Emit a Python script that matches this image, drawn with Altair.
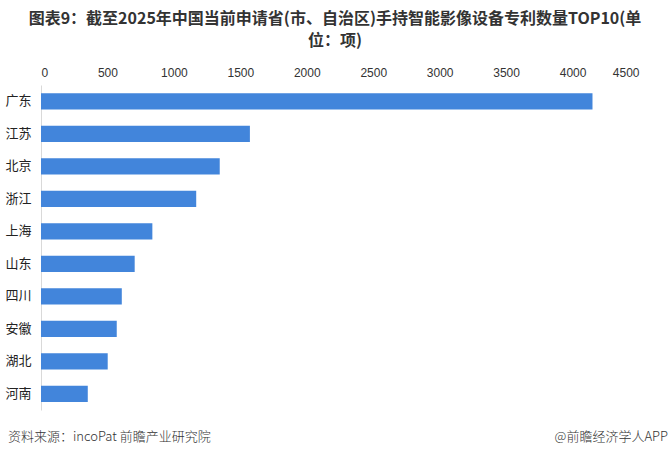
import altair as alt
import pandas as pd

provinces = ["广东", "江苏", "北京", "浙江", "上海", "山东", "四川", "安徽", "湖北", "河南"]
counts = [4150, 1572, 1345, 1168, 838, 705, 608, 570, 502, 352]
x_ticks = [0, 500, 1000, 1500, 2000, 2500, 3000, 3500, 4000, 4500]
title_lines = ["图表9：截至2025年中国当前申请省(市、自治区)手持智能影像设备专利数量TOP10(单", "位：项)"]
source_text = "资料来源：incoPat 前瞻产业研究院"
credit_text = "@前瞻经济学人APP"

df = pd.DataFrame({"province": provinces, "count": counts})
one = pd.DataFrame({"k": [0]})

FONT = "Noto Sans CJK SC"

bars = alt.Chart(df).mark_bar(color="#4285DB").encode(
    x=alt.X("count:Q",
            scale=alt.Scale(domain=[0, 4500], nice=False),
            axis=alt.Axis(orient="top", values=x_ticks, format="d", title=None, grid=False,
                          ticks=False, domain=False, labelFont="Liberation Sans",
                          labelFontSize=12, labelColor="#333333", labelPadding=6)),
    y=alt.Y("province:N", sort=provinces,
            scale=alt.Scale(paddingInner=0.5, paddingOuter=0.25),
            axis=alt.Axis(title=None, ticks=False, domain=True, domainColor="#d9d9d9",
                          labelFont=FONT, labelFontSize=13, labelColor="#222222",
                          labelPadding=10)),
)

title = alt.Chart(one).mark_text(font=FONT, fontSize=16, fontWeight="bold",
                                 color="#333333", align="center", baseline="middle",
                                 lineHeight=22, text=title_lines).encode(
    x=alt.value(294), y=alt.value(-66))
src = alt.Chart(one).mark_text(font=FONT, fontSize=13, fontWeight=300, color="#333333",
                               align="left", baseline="middle", text=source_text).encode(
    x=alt.value(-33), y=alt.value(352))
cred = alt.Chart(one).mark_text(font=FONT, fontSize=13, fontWeight=300, color="#333333",
                                align="right", baseline="middle", text=credit_text).encode(
    x=alt.value(627), y=alt.value(352))

chart = alt.layer(bars, title, src, cred).properties(
    width=598, height=325,
    autosize=alt.AutoSizeParams(type="none"),
    padding={"left": 41, "top": 85, "right": 31, "bottom": 47},
    background="white",
).configure_view(stroke=None)

chart.save("out.html", embed_options={"renderer": "svg", "actions": False})
